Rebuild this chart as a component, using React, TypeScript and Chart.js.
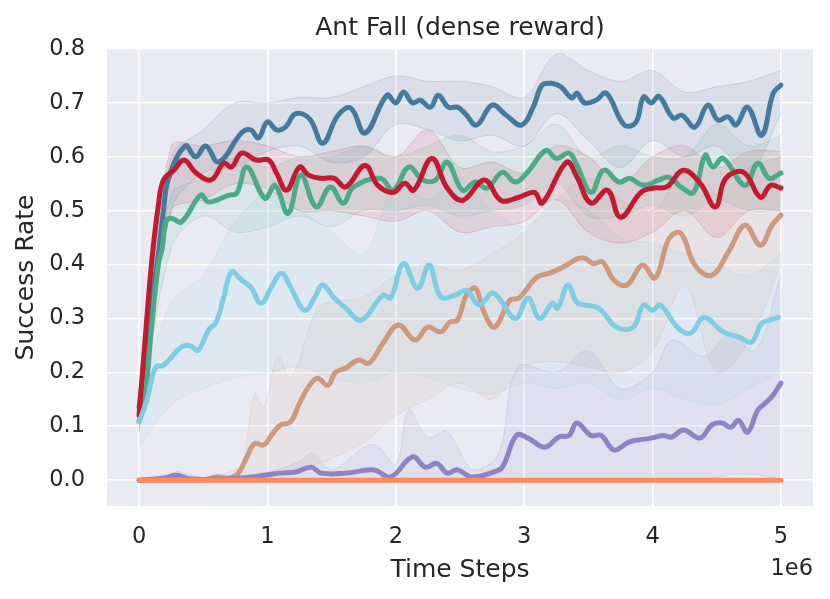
import { useEffect, useRef } from "react";
import { Chart, registerables } from "chart.js";

Chart.register(...registerables);

// tick values
const xTicks = [0, 1, 2, 3, 4, 5];
const yTicks = [0, 0.1, 0.2, 0.3, 0.4, 0.5, 0.6, 0.7, 0.8];

// dark blue
const blueX = [0, 0.08, 0.15, 0.19, 0.23, 0.36, 0.44, 0.52, 0.62, 0.8, 0.87, 0.93, 1.0, 1.07, 1.14, 1.22, 1.33, 1.43, 1.55, 1.65, 1.76, 1.93, 2.0, 2.06, 2.13, 2.19, 2.27, 2.33, 2.41, 2.48, 2.54, 2.63, 2.75, 2.86, 2.98, 3.07, 3.14, 3.22, 3.29, 3.37, 3.41, 3.47, 3.56, 3.64, 3.78, 3.87, 3.93, 3.99, 4.05, 4.16, 4.23, 4.33, 4.43, 4.51, 4.59, 4.65, 4.74, 4.85, 4.94, 5.0];
const blueY = [0.135, 0.3, 0.42, 0.5, 0.56, 0.62, 0.6, 0.62, 0.59, 0.645, 0.65, 0.635, 0.665, 0.65, 0.655, 0.68, 0.67, 0.625, 0.677, 0.69, 0.644, 0.714, 0.7, 0.72, 0.7, 0.705, 0.692, 0.714, 0.692, 0.692, 0.68, 0.659, 0.696, 0.677, 0.659, 0.692, 0.733, 0.736, 0.729, 0.709, 0.718, 0.7, 0.705, 0.718, 0.659, 0.664, 0.711, 0.7, 0.712, 0.672, 0.677, 0.655, 0.696, 0.668, 0.674, 0.659, 0.692, 0.64, 0.718, 0.733];

// red
const redX = [0, 0.05, 0.1, 0.15, 0.19, 0.27, 0.35, 0.44, 0.56, 0.66, 0.72, 0.8, 0.91, 1.01, 1.07, 1.15, 1.25, 1.32, 1.42, 1.52, 1.61, 1.76, 1.86, 1.98, 2.07, 2.14, 2.28, 2.4, 2.52, 2.69, 2.82, 2.96, 3.08, 3.14, 3.33, 3.41, 3.52, 3.65, 3.75, 3.91, 4.01, 4.11, 4.24, 4.37, 4.49, 4.57, 4.71, 4.84, 4.92, 5.0];
const redY = [0.12, 0.27, 0.41, 0.51, 0.557, 0.575, 0.594, 0.571, 0.557, 0.588, 0.581, 0.607, 0.594, 0.594, 0.57, 0.538, 0.581, 0.566, 0.56, 0.56, 0.544, 0.584, 0.547, 0.534, 0.551, 0.538, 0.597, 0.542, 0.519, 0.557, 0.519, 0.525, 0.534, 0.514, 0.59, 0.563, 0.514, 0.538, 0.488, 0.534, 0.542, 0.544, 0.575, 0.551, 0.507, 0.56, 0.571, 0.525, 0.547, 0.542];

// green
const greenX = [0, 0.04, 0.1, 0.15, 0.18, 0.21, 0.25, 0.33, 0.48, 0.54, 0.7, 0.76, 0.84, 0.98, 1.06, 1.16, 1.26, 1.38, 1.49, 1.59, 1.67, 1.88, 1.98, 2.1, 2.21, 2.31, 2.4, 2.52, 2.62, 2.71, 2.83, 2.93, 3.02, 3.17, 3.25, 3.35, 3.41, 3.52, 3.62, 3.74, 3.82, 3.93, 4.05, 4.13, 4.22, 4.32, 4.41, 4.47, 4.55, 4.72, 4.82, 4.91, 5.0];
const greenY = [0.11, 0.14, 0.29, 0.4, 0.43, 0.48, 0.486, 0.479, 0.529, 0.516, 0.529, 0.532, 0.581, 0.523, 0.547, 0.495, 0.566, 0.507, 0.544, 0.514, 0.544, 0.56, 0.538, 0.581, 0.557, 0.557, 0.59, 0.538, 0.553, 0.542, 0.571, 0.553, 0.57, 0.612, 0.597, 0.607, 0.585, 0.534, 0.575, 0.553, 0.56, 0.547, 0.557, 0.562, 0.544, 0.534, 0.603, 0.581, 0.597, 0.547, 0.588, 0.56, 0.57];

// light blue
const skyX = [0, 0.06, 0.13, 0.19, 0.33, 0.4, 0.46, 0.54, 0.6, 0.66, 0.72, 0.8, 0.87, 0.95, 1.03, 1.11, 1.18, 1.29, 1.37, 1.43, 1.52, 1.61, 1.73, 1.9, 1.96, 2.06, 2.17, 2.26, 2.35, 2.46, 2.55, 2.65, 2.76, 2.93, 3.03, 3.12, 3.22, 3.26, 3.34, 3.41, 3.47, 3.58, 3.72, 3.85, 3.93, 4.0, 4.06, 4.2, 4.3, 4.4, 4.55, 4.68, 4.77, 4.85, 4.91, 4.98];
const skyY = [0.108, 0.148, 0.21, 0.213, 0.247, 0.249, 0.241, 0.278, 0.293, 0.34, 0.386, 0.371, 0.358, 0.328, 0.358, 0.384, 0.358, 0.315, 0.34, 0.362, 0.338, 0.319, 0.297, 0.343, 0.338, 0.402, 0.356, 0.399, 0.34, 0.343, 0.352, 0.325, 0.347, 0.3, 0.338, 0.3, 0.328, 0.319, 0.362, 0.33, 0.325, 0.319, 0.284, 0.284, 0.325, 0.315, 0.325, 0.282, 0.273, 0.302, 0.275, 0.265, 0.256, 0.291, 0.297, 0.302];

// tan
const tanX = [0, 0.5, 0.6, 0.7, 0.77, 0.84, 0.9, 0.97, 1.03, 1.1, 1.18, 1.25, 1.32, 1.39, 1.47, 1.53, 1.61, 1.71, 1.79, 1.9, 2.02, 2.15, 2.25, 2.35, 2.42, 2.48, 2.55, 2.62, 2.69, 2.77, 2.89, 2.96, 3.1, 3.2, 3.3, 3.41, 3.47, 3.54, 3.61, 3.7, 3.8, 3.92, 4.02, 4.13, 4.22, 4.33, 4.46, 4.59, 4.72, 4.84, 4.93, 5.0];
const tanY = [0, 0, 0.006, 0.004, 0.012, 0.043, 0.068, 0.065, 0.083, 0.102, 0.108, 0.143, 0.173, 0.189, 0.176, 0.2, 0.208, 0.223, 0.217, 0.254, 0.288, 0.26, 0.284, 0.275, 0.293, 0.297, 0.343, 0.356, 0.31, 0.284, 0.334, 0.338, 0.377, 0.384, 0.395, 0.41, 0.412, 0.402, 0.405, 0.371, 0.362, 0.399, 0.375, 0.449, 0.458, 0.399, 0.38, 0.423, 0.473, 0.436, 0.473, 0.492];

// purple
const purpleX = [0, 0.2, 0.29, 0.4, 0.6, 0.8, 0.95, 1.1, 1.22, 1.34, 1.42, 1.61, 1.83, 1.96, 2.13, 2.23, 2.32, 2.4, 2.48, 2.59, 2.76, 2.83, 2.94, 3.03, 3.16, 3.27, 3.35, 3.41, 3.52, 3.6, 3.7, 3.82, 3.99, 4.08, 4.15, 4.24, 4.37, 4.46, 4.54, 4.61, 4.67, 4.74, 4.82, 4.88, 4.94, 5.0];
const purpleY = [0, 0.004, 0.009, 0.002, 0.002, 0.004, 0.008, 0.013, 0.015, 0.024, 0.013, 0.013, 0.019, 0.006, 0.043, 0.024, 0.031, 0.013, 0.019, 0.006, 0.015, 0.024, 0.083, 0.078, 0.061, 0.08, 0.083, 0.106, 0.083, 0.083, 0.056, 0.071, 0.078, 0.083, 0.08, 0.093, 0.078, 0.102, 0.106, 0.098, 0.111, 0.089, 0.13, 0.143, 0.158, 0.18];

// orange (flat)
const orangeX = [0, 5];
const orangeY = [0, 0];

// shaded bands
const bandX = [0, 0.25, 0.5, 0.75, 1.0, 1.25, 1.5, 1.75, 2.0, 2.25, 2.5, 2.75, 3.0, 3.25, 3.5, 3.75, 4.0, 4.25, 4.5, 4.75, 5.0];
const blueLo = [0.1, 0.5, 0.57, 0.58, 0.61, 0.62, 0.59, 0.6, 0.66, 0.65, 0.63, 0.64, 0.62, 0.68, 0.63, 0.58, 0.63, 0.6, 0.62, 0.57, 0.68];
const blueHi = [0.16, 0.6, 0.65, 0.7, 0.7, 0.71, 0.71, 0.73, 0.75, 0.74, 0.74, 0.73, 0.71, 0.79, 0.76, 0.74, 0.76, 0.72, 0.73, 0.74, 0.76];
const redLo = [0.09, 0.5, 0.52, 0.55, 0.54, 0.5, 0.5, 0.49, 0.48, 0.5, 0.46, 0.47, 0.48, 0.52, 0.46, 0.44, 0.46, 0.5, 0.45, 0.5, 0.5];
const redHi = [0.14, 0.62, 0.62, 0.63, 0.62, 0.6, 0.61, 0.62, 0.6, 0.65, 0.58, 0.59, 0.57, 0.62, 0.6, 0.55, 0.6, 0.62, 0.58, 0.61, 0.61];
const greenLo = [0.09, 0.43, 0.49, 0.46, 0.47, 0.49, 0.47, 0.5, 0.5, 0.51, 0.49, 0.5, 0.51, 0.55, 0.49, 0.49, 0.51, 0.49, 0.52, 0.5, 0.5];
const greenHi = [0.13, 0.53, 0.56, 0.6, 0.58, 0.6, 0.6, 0.62, 0.6, 0.62, 0.64, 0.61, 0.62, 0.66, 0.6, 0.62, 0.6, 0.6, 0.66, 0.62, 0.64];
const skyLo = [0.06, 0.14, 0.17, 0.19, 0.2, 0.21, 0.19, 0.18, 0.2, 0.19, 0.17, 0.16, 0.18, 0.17, 0.18, 0.15, 0.17, 0.15, 0.14, 0.17, 0.2];
const skyHi = [0.14, 0.33, 0.38, 0.48, 0.53, 0.5, 0.46, 0.42, 0.55, 0.52, 0.56, 0.5, 0.47, 0.52, 0.5, 0.45, 0.44, 0.42, 0.4, 0.38, 0.42];

const tanBandX = [0, 0.5, 0.7, 0.8, 0.9, 0.97, 1.08, 1.18, 1.39, 1.5, 1.75, 2.0, 2.25, 2.5, 2.75, 3.0, 3.25, 3.5, 3.75, 4.0, 4.25, 4.5, 4.75, 5.0];
const tanLo = [0, 0, 0, 0, 0, 0, 0.01, 0.02, 0.03, 0.04, 0.07, 0.12, 0.15, 0.18, 0.15, 0.21, 0.22, 0.21, 0.2, 0.24, 0.36, 0.2, 0.26, 0.4];
const tanHi = [0, 0.005, 0.015, 0.03, 0.16, 0.135, 0.23, 0.19, 0.32, 0.33, 0.34, 0.38, 0.4, 0.39, 0.42, 0.46, 0.52, 0.56, 0.52, 0.5, 0.57, 0.53, 0.58, 0.6];

const purpleBandX = [0, 0.25, 0.3, 0.5, 1.0, 1.25, 1.35, 1.5, 1.75, 1.85, 2.0, 2.1, 2.25, 2.4, 2.6, 2.8, 2.95, 3.25, 3.5, 3.75, 4.0, 4.15, 4.4, 4.6, 4.8, 5.0];
const purpleLo = [0, 0, 0, 0, 0, 0, 0, 0, 0, 0, 0, 0, 0, 0, 0, 0, 0, 0, 0, 0, 0, 0, 0, 0.01, 0.01, 0];
const purpleHi = [0, 0.012, 0.016, 0.005, 0.015, 0.035, 0.05, 0.02, 0.06, 0.065, 0.03, 0.13, 0.08, 0.09, 0.02, 0.05, 0.21, 0.2, 0.24, 0.17, 0.2, 0.26, 0.23, 0.27, 0.24, 0.38];

const TEXT = "#262626";
const FONT = "'DejaVu Sans', sans-serif";

const pts = (xs: number[], ys: number[]) => xs.map((x, i) => ({ x, y: ys[i] }));

function rgba(hex: string, a: number) {
  const n = parseInt(hex.slice(1), 16);
  return `rgba(${(n >> 16) & 255}, ${(n >> 8) & 255}, ${n & 255}, ${a})`;
}

function band(xs: number[], lo: number[], hi: number[], color: string, order: number) {
  const common = {
    borderColor: rgba(color, 0.18),
    borderWidth: 1,
    pointRadius: 0,
    tension: 0.35,
    order,
  };
  return [
    { ...common, data: pts(xs, lo), fill: false },
    { ...common, data: pts(xs, hi), fill: "-1", backgroundColor: rgba(color, 0.1) },
  ];
}

function line(xs: number[], ys: number[], color: string, order: number) {
  return {
    data: pts(xs, ys),
    borderColor: color,
    borderWidth: 5,
    borderCapStyle: "round" as const,
    borderJoinStyle: "round" as const,
    pointRadius: 0,
    fill: false,
    tension: 0.4,
    order,
  };
}

const decor = {
  id: "decor",
  beforeDraw(chart: Chart) {
    const { ctx, chartArea } = chart;
    ctx.save();
    ctx.fillStyle = "#eaeaf2";
    ctx.fillRect(chartArea.left, chartArea.top, chartArea.right - chartArea.left, chartArea.bottom - chartArea.top);
    ctx.restore();
  },
  afterDraw(chart: Chart) {
    const { ctx, chartArea } = chart;
    ctx.save();
    ctx.fillStyle = TEXT;
    ctx.textBaseline = "alphabetic";
    ctx.font = `25px ${FONT}`;
    ctx.textAlign = "center";
    ctx.fillText("Ant Fall (dense reward)", (chartArea.left + chartArea.right) / 2, 35);
    ctx.font = `22.5px ${FONT}`;
    ctx.textAlign = "right";
    ctx.fillText("1e6", chartArea.right, 575);
    ctx.restore();
  },
};

export default function App() {
  const canvasRef = useRef<HTMLCanvasElement>(null);

  useEffect(() => {
    if (!canvasRef.current) return;
    const colors = {
      blue: "#447a9c",
      red: "#c41a30",
      green: "#4bab88",
      sky: "#7ecde3",
      tan: "#cf9a7c",
      purple: "#8e84c4",
      orange: "#fd8a5a",
    };

    const chart = new Chart(canvasRef.current, {
      type: "line",
      data: {
        datasets: [
          ...band(bandX, blueLo, blueHi, colors.blue, 20),
          ...band(bandX, greenLo, greenHi, colors.green, 21),
          ...band(bandX, redLo, redHi, colors.red, 22),
          ...band(bandX, skyLo, skyHi, colors.sky, 23),
          ...band(tanBandX, tanLo, tanHi, colors.tan, 24),
          ...band(purpleBandX, purpleLo, purpleHi, colors.purple, 25),
          line(blueX, blueY, colors.blue, 7),
          line(greenX, greenY, colors.green, 6),
          line(redX, redY, colors.red, 5),
          line(tanX, tanY, colors.tan, 4),
          line(purpleX, purpleY, colors.purple, 3),
          line(skyX, skyY, colors.sky, 2),
          line(orangeX, orangeY, colors.orange, 1),
        ] as any,
      },
      options: {
        animation: false,
        responsive: true,
        maintainAspectRatio: false,
        layout: { padding: { top: 49, right: 17, left: 0, bottom: 0 } },
        plugins: {
          legend: { display: false },
          tooltip: { enabled: false },
        },
        scales: {
          x: {
            type: "linear",
            min: -0.25,
            max: 5.25,
            afterBuildTicks: (scale) => {
              scale.ticks = xTicks.map((v) => ({ value: v }));
            },
            afterFit: (scale) => {
              scale.height = 93;
            },
            ticks: {
              color: TEXT,
              font: { family: FONT, size: 22.5 },
              padding: 18,
              callback: (v) => String(v),
            },
            grid: { color: "#ffffff", lineWidth: 1.6, drawTicks: false },
            border: { display: false },
            title: {
              display: true,
              text: "Time Steps",
              color: TEXT,
              font: { family: FONT, size: 25 },
              padding: { top: 0, bottom: 14 },
            },
          },
          y: {
            type: "linear",
            min: -0.048,
            max: 0.8,
            afterBuildTicks: (scale) => {
              scale.ticks = yTicks.map((v) => ({ value: v }));
            },
            afterFit: (scale) => {
              scale.width = 107;
            },
            ticks: {
              color: TEXT,
              font: { family: FONT, size: 22.5 },
              padding: 22,
              callback: (v) => Number(v).toFixed(1),
            },
            grid: { color: "#ffffff", lineWidth: 1.6, drawTicks: false },
            border: { display: false },
            title: {
              display: true,
              text: "Success Rate",
              color: TEXT,
              font: { family: FONT, size: 25 },
              padding: { top: 11, bottom: 0 },
            },
          },
        },
      },
      plugins: [decor],
    });

    return () => chart.destroy();
  }, []);

  return (
    <div style={{ position: "absolute", left: 0, top: 0, width: 830, height: 599, background: "#ffffff" }}>
      <canvas ref={canvasRef} />
    </div>
  );
}
